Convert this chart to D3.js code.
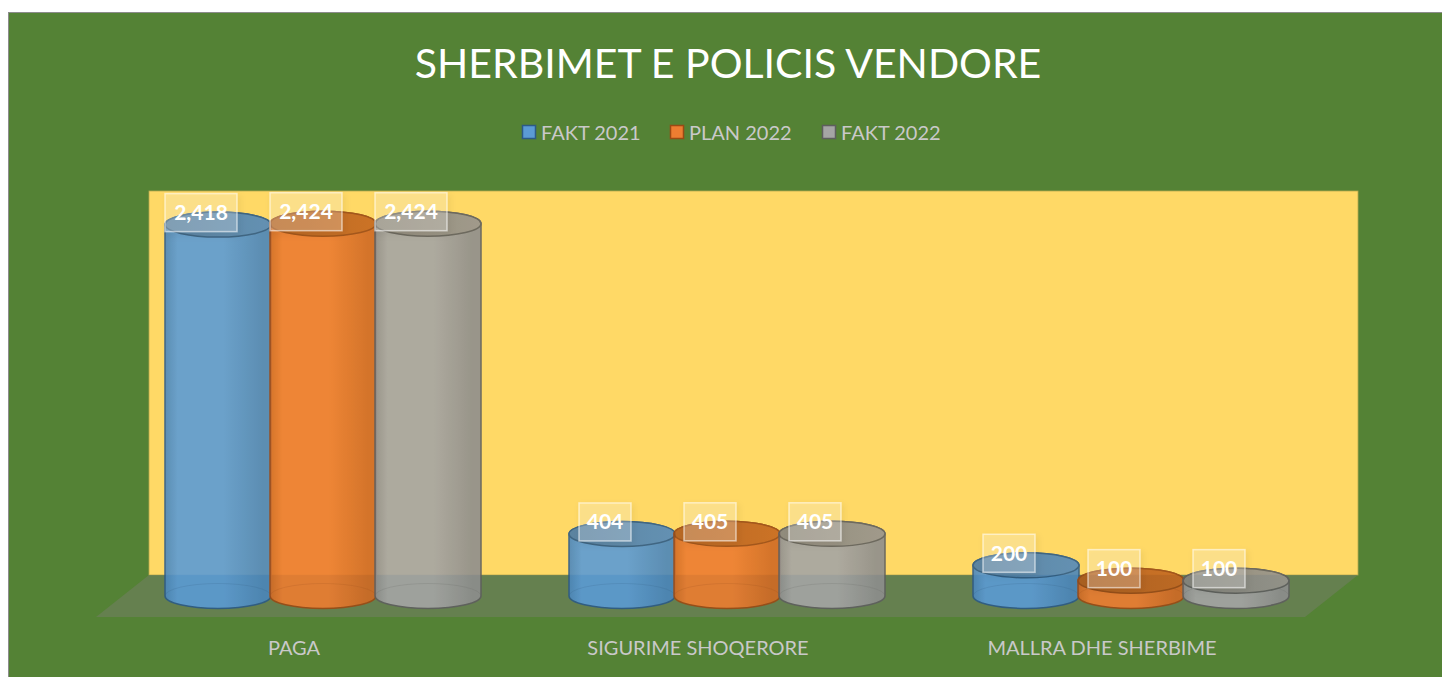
<!DOCTYPE html>
<html>
<head>
<meta charset="utf-8">
<script src="https://cdn.jsdelivr.net/npm/d3@7"></script>
<style>
  html, body { margin: 0; padding: 0; background: #ffffff; }
  svg { display: block; }
</style>
</head>
<body>
<div id="chart"></div>
<script>
// chart data
const categories = ['PAGA', 'SIGURIME SHOQERORE', 'MALLRA DHE SHERBIME'];
const seriesNames = ['FAKT 2021', 'PLAN 2022', 'FAKT 2022'];
const fakt2021 = [2418, 404, 200];
const plan2022 = [2424, 405, 100];
const fakt2022 = [2424, 405, 100];
const seriesValues = [fakt2021, plan2022, fakt2022];

const width = 1442;
const height = 677;

const colors = [
  { side: '#5b9bd5', dark: '#4b86bb', top: '#4a7aa6', stroke: '#2c5a86' },
  { side: '#ed7d31', dark: '#d06a24', top: '#b05c1c', stroke: '#9a4a14' },
  { side: '#a5a5a5', dark: '#8e8e8e', top: '#85837e', stroke: '#5e5e5e' }
];

const svg = d3.select('#chart')
  .append('svg')
  .attr('width', width)
  .attr('height', height);

const defs = svg.append('defs');
colors.forEach((c, i) => {
  const g = defs.append('linearGradient')
    .attr('id', 'side' + i)
    .attr('x1', '0%').attr('x2', '100%').attr('y1', '0%').attr('y2', '0%');
  g.append('stop').attr('offset', '0%').attr('stop-color', c.dark);
  g.append('stop').attr('offset', '12%').attr('stop-color', c.side);
  g.append('stop').attr('offset', '55%').attr('stop-color', c.side);
  g.append('stop').attr('offset', '92%').attr('stop-color', c.dark);
  g.append('stop').attr('offset', '100%').attr('stop-color', c.dark);

  const t = defs.append('linearGradient')
    .attr('id', 'top' + i)
    .attr('x1', '0%').attr('x2', '100%').attr('y1', '0%').attr('y2', '0%');
  t.append('stop').attr('offset', '0%').attr('stop-color', c.top);
  t.append('stop').attr('offset', '100%').attr('stop-color', d3.color(c.top).brighter(0.35));
});

const shadow = defs.append('filter').attr('id', 'lblShadow')
  .attr('x', '-30%').attr('y', '-30%').attr('width', '160%').attr('height', '160%');
shadow.append('feDropShadow')
  .attr('dx', 2).attr('dy', 3).attr('stdDeviation', 3)
  .attr('flood-color', '#000').attr('flood-opacity', 0.18);

// chart area
svg.append('rect')
  .attr('x', 8.5).attr('y', 12.5)
  .attr('width', width).attr('height', height)
  .attr('fill', '#548235')
  .attr('stroke', '#8c8c8c')
  .attr('stroke-width', 1);

// title
svg.append('text')
  .attr('x', 728).attr('y', 78)
  .attr('text-anchor', 'middle')
  .attr('fill', '#ffffff')
  .style('font-family', 'Lato, "Open Sans", sans-serif')
  .style('font-size', '41px')
  .text('SHERBIMET E POLICIS VENDORE');

// legend
const legendX = [522, 670, 822];
const legend = svg.append('g');
seriesNames.forEach((name, i) => {
  const g = legend.append('g').attr('transform', `translate(${legendX[i]},125)`);
  g.append('rect')
    .attr('x', 0.5).attr('y', 0.5)
    .attr('width', 13).attr('height', 13)
    .attr('fill', colors[i].side)
    .attr('stroke', colors[i].stroke)
    .attr('stroke-width', 1.5);
  g.append('text')
    .attr('x', 19).attr('y', 14.5)
    .attr('fill', '#c9c9c9')
    .style('font-family', 'Lato, "Open Sans", sans-serif')
    .style('font-size', '20px')
    .text(name);
});

// scales
const x = d3.scaleBand()
  .domain(categories)
  .range([121, 1333]);

const xs = d3.scaleBand()
  .domain(seriesNames)
  .range([-157.5, 157.5]);

const wallBase = 575;
const y = d3.scaleLinear()
  .domain([0, 2500])
  .range([0, 384]);

// back wall
svg.append('rect')
  .attr('x', 149).attr('y', wallBase - y(2500))
  .attr('width', 1358 - 149).attr('height', y(2500))
  .attr('fill', '#ffd966')
  .attr('stroke', '#b6a94e')
  .attr('stroke-width', 0.8);

// floor
svg.append('path')
  .attr('d', 'M149,575 L1358,575 L1305,617 L96,617 Z')
  .attr('fill', '#6b7f58')
  .attr('fill-opacity', 0.75);

// cylinders
const baseY = 596;
const rx = 53;
const ry = 12.5;

const bars = [];
categories.forEach((cat, ci) => {
  seriesNames.forEach((s, si) => {
    bars.push({ cat, s, si, value: seriesValues[si][ci] });
  });
});

const barG = svg.append('g');
bars.forEach(d => {
  const cx = x(d.cat) + x.bandwidth() / 2 + xs(d.s) + xs.bandwidth() / 2;
  const yTop = baseY - y(d.value);
  d.cx = cx;
  d.yTop = yTop;
  const g = barG.append('g').attr('opacity', 0.9);
  g.append('path')
    .attr('d', `M${cx - rx},${yTop} L${cx - rx},${baseY} A${rx},${ry} 0 0 0 ${cx + rx},${baseY} L${cx + rx},${yTop} A${rx},${ry} 0 0 0 ${cx - rx},${yTop} Z`)
    .attr('fill', `url(#side${d.si})`)
    .attr('stroke', colors[d.si].stroke)
    .attr('stroke-width', 1.5);
  // faint back edge of base
  g.append('path')
    .attr('d', `M${cx - rx},${baseY} A${rx},${ry} 0 0 1 ${cx + rx},${baseY}`)
    .attr('fill', 'none')
    .attr('stroke', colors[d.si].stroke)
    .attr('stroke-opacity', 0.18)
    .attr('stroke-width', 1);
  g.append('ellipse')
    .attr('cx', cx).attr('cy', yTop)
    .attr('rx', rx).attr('ry', ry)
    .attr('fill', `url(#top${d.si})`)
    .attr('stroke', colors[d.si].stroke)
    .attr('stroke-width', 1.5);
});

// value labels
const fmt = d3.format(',');
const labelG = svg.append('g');
bars.forEach(d => {
  const txt = fmt(d.value);
  const w = txt.length > 3 ? 72 : 52;
  const lx = d.cx - 17;
  const ly = d.yTop - 12;
  labelG.append('rect')
    .attr('x', lx - w / 2).attr('y', ly - 19)
    .attr('width', w).attr('height', 38)
    .attr('fill', '#ffffff')
    .attr('fill-opacity', 0.22)
    .attr('stroke', '#ffffff')
    .attr('stroke-opacity', 0.55)
    .attr('stroke-width', 1.5)
    .attr('filter', 'url(#lblShadow)');
  labelG.append('text')
    .attr('x', lx).attr('y', ly + 7.5)
    .attr('text-anchor', 'middle')
    .attr('fill', '#ffffff')
    .style('font-family', 'Lato, "Open Sans", sans-serif')
    .style('font-weight', 'bold')
    .style('font-size', '21px')
    .text(txt);
});

// category labels
svg.append('g')
  .selectAll('text')
  .data(categories)
  .join('text')
  .attr('x', d => x(d) + x.bandwidth() / 2 - 29)
  .attr('y', 655)
  .attr('text-anchor', 'middle')
  .attr('fill', '#c9c9c9')
  .style('font-family', 'Lato, "Open Sans", sans-serif')
  .style('font-size', '20px')
  .text(d => d);
</script>
</body>
</html>
